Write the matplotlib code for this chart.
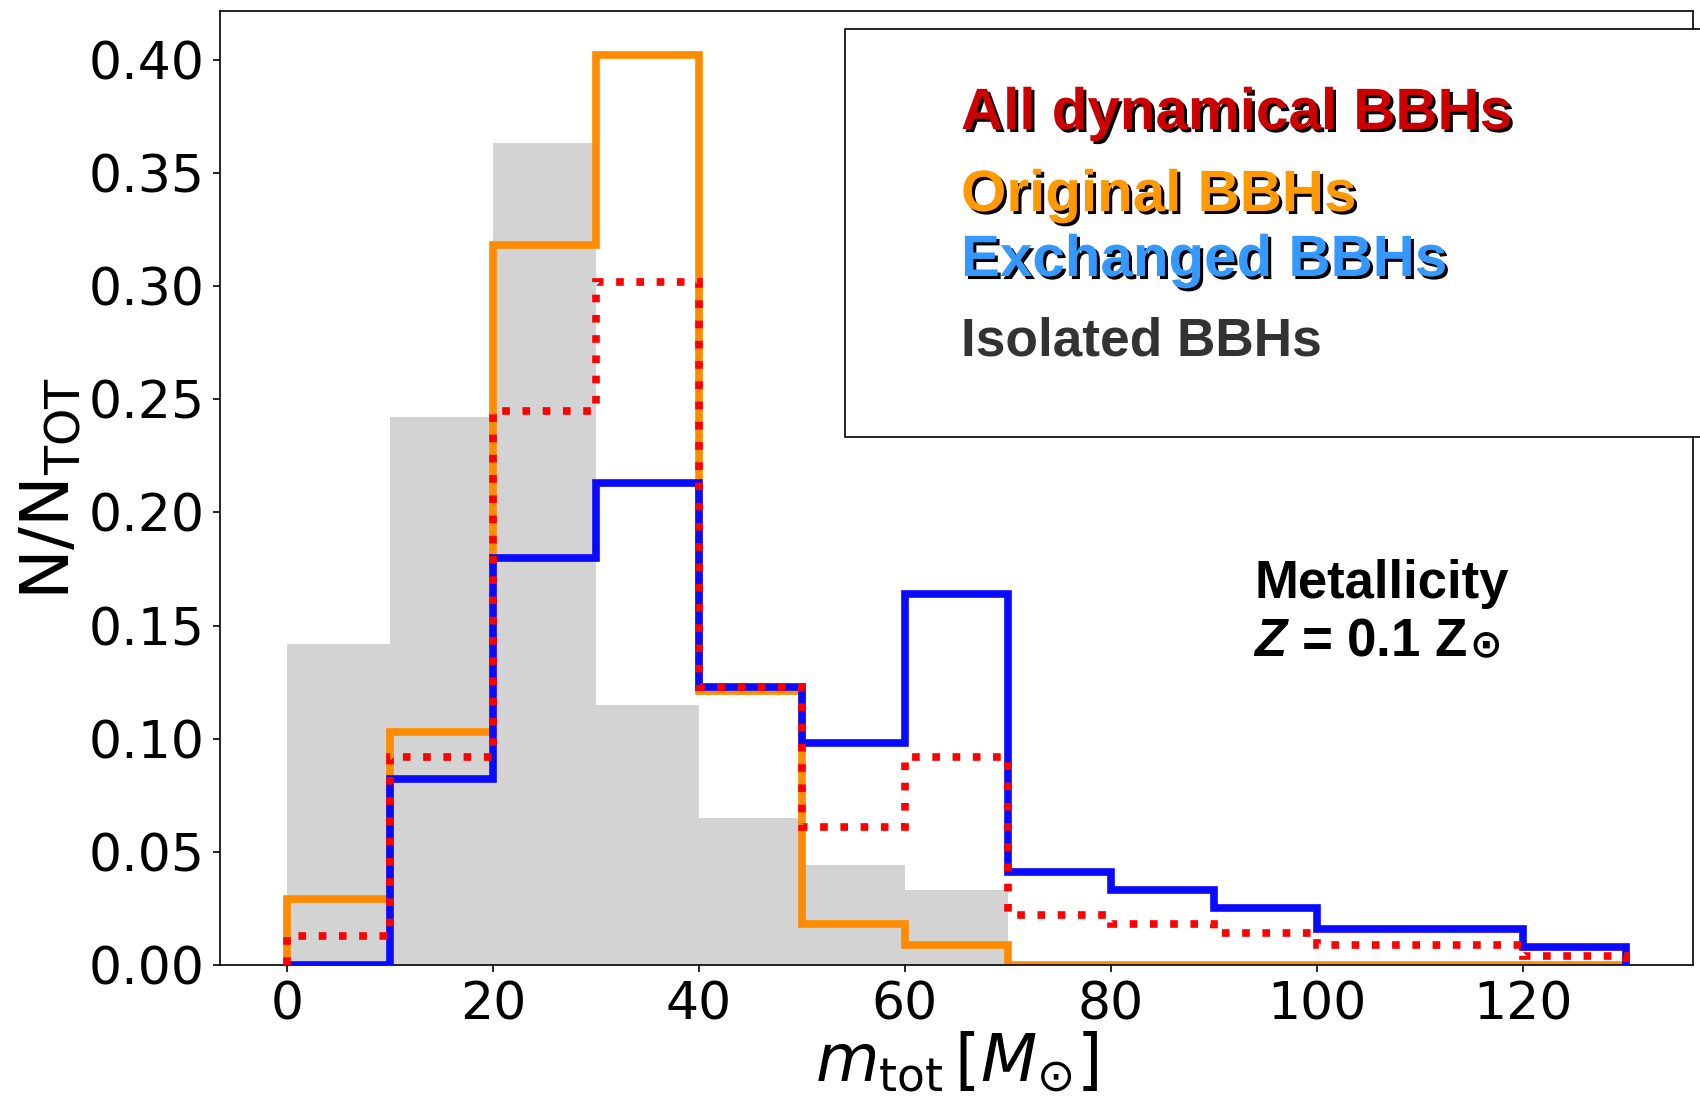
import numpy as np
import matplotlib
matplotlib.use("Agg")
import matplotlib.pyplot as plt
import matplotlib.patheffects as pe
from matplotlib.patches import Rectangle

# bin edges in total mass (Msun)
edges = np.arange(0, 140, 10)
edges_iso = np.arange(0, 80, 10)

# fractions per bin
isolated = [0.142, 0.242, 0.363, 0.115, 0.065, 0.044, 0.033]
original = [0.029, 0.103, 0.318, 0.402, 0.121, 0.018, 0.009, 0.0, 0.0, 0.0, 0.0, 0.0, 0.0]
exchanged = [0.0, 0.082, 0.180, 0.213, 0.123, 0.098, 0.164, 0.041, 0.033, 0.025, 0.016, 0.016, 0.008]
all_dyn = [0.013, 0.092, 0.245, 0.302, 0.123, 0.061, 0.092, 0.022, 0.018, 0.014, 0.009, 0.009, 0.004]

xticks = [0, 20, 40, 60, 80, 100, 120]
yticks = [0.0, 0.05, 0.10, 0.15, 0.20, 0.25, 0.30, 0.35, 0.40]

legend_labels = ["All dynamical BBHs", "Original BBHs", "Exchanged BBHs", "Isolated BBHs"]
legend_colors = ["#cc0000", "#ff9900", "#3399ff", "#333333"]

plt.rcParams['mathtext.fontset'] = 'dejavusans'
plt.rcParams['mathtext.rm'] = 'Liberation Sans:bold'
plt.rcParams['mathtext.it'] = 'Liberation Sans:italic:bold'
plt.rcParams['mathtext.bf'] = 'Liberation Sans:bold'

fig = plt.figure(figsize=(17, 11.05), dpi=100)
ax = fig.add_axes([0.1294, 0.1267, 0.8665, 0.8633])

ax.stairs(isolated, edges_iso, fill=True, color='lightgray', zorder=1)
ax.stairs(original, edges, color='darkorange', lw=5.5, zorder=2)
ax.stairs(exchanged, edges, color='#0a0aff', lw=5.5, zorder=3)
ax.stairs(all_dyn, edges, color='red', lw=5.5, ls=':', zorder=4)

ax.set_xlim(-6.5, 136.5)
ax.set_ylim(0, 0.4215)
ax.set_xticks(xticks)
ax.set_yticks(yticks)
ax.set_yticklabels([f"{v:.2f}" for v in yticks])
ax.tick_params(labelsize=37.5, length=5, width=1.2, pad=6)
for s in ax.spines.values():
    s.set_linewidth(1.2)

ax.set_xlabel(r'$m_{\rm tot}\,[M_{\odot}]$', fontsize=47, labelpad=0)
ax.set_ylabel(r'$\mathrm{N/N_{TOT}}$', fontsize=49, labelpad=4)

# legend box (extends past the right edge)
box = Rectangle((0.497, 0.6045), 0.56, 0.3693, transform=fig.transFigure,
                facecolor='white', edgecolor='black', lw=1.2, zorder=10,
                clip_on=False)
fig.patches.append(box)

ys = [1 - 129 / 1105, 1 - 211 / 1105, 1 - 276 / 1105, 1 - 355 / 1105]
for lab, col, y in zip(legend_labels, legend_colors, ys):
    shadow = lab != "Isolated BBHs"
    t = fig.text(961 / 1700, y, lab, color=col, fontsize=42 if shadow else 38.3,
                 fontweight='bold', family='Liberation Sans', va='baseline',
                 zorder=11)
    if shadow:
        t.set_path_effects([pe.withSimplePatchShadow(offset=(2.2, -2.2),
                                                     shadow_rgbFace='black',
                                                     alpha=1.0)])

fig.text(1255 / 1700, 1 - 598 / 1105, "Metallicity",
         fontsize=38, fontweight='bold', family='Liberation Sans', va='baseline')
zy = 1 - 656 / 1105
zt = fig.text(1253 / 1700, zy, r'$Z$ = 0.1 Z',
              fontsize=38, fontweight='bold', family='Liberation Sans', va='baseline',
              math_fontfamily='custom')
fig.canvas.draw()
bb = zt.get_window_extent()
fig.text(bb.x1 / 1700 + 2 / 1700, zy, "\u2299", fontsize=28,
         fontweight='bold', family='DejaVu Sans', va='baseline')

fig.savefig("out.png", dpi=100)
